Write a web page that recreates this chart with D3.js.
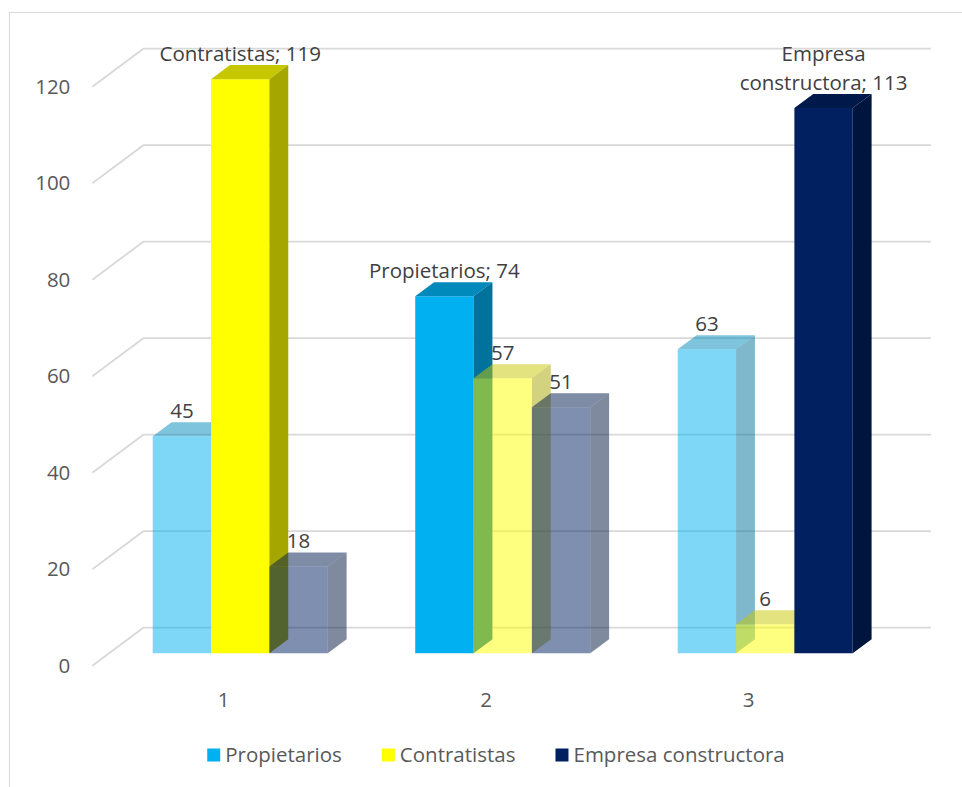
<!DOCTYPE html>
<html><head><meta charset="utf-8">
<script src="https://cdn.jsdelivr.net/npm/d3@7"></script>
<style>html,body{margin:0;padding:0;background:#fff;} svg{display:block;font-family:"Open Sans",sans-serif;}</style>
</head><body><svg id="c" width="962" height="787"></svg>
<script>
// ---- data ----
const categories = ["1", "2", "3"];
const seriesNames = ["Propietarios", "Contratistas", "Empresa constructora"];
const propietarios = [45, 74, 63];
const contratistas = [119, 57, 6];
const empresaConstructora = [18, 51, 113];
const yTicks = [0, 20, 40, 60, 80, 100, 120];

const seriesValues = [propietarios, contratistas, empresaConstructora];

const svg = d3.select("#c");
const color = d3.scaleOrdinal().domain(seriesNames).range(["#00B0F0", "#FFFF00", "#002060"]);

// chart border
svg.append("rect").attr("x", 9.5).attr("y", 12.5).attr("width", 1000).attr("height", 1000)
  .attr("fill", "none").attr("stroke", "#d9d9d9").attr("stroke-width", 1);

const front = {left: 92.35, right: 879.85, base: 665.7};
const depth = {dx: 51, dy: -38, d0: 0.326, d1: 0.696};
const x0 = d3.scaleBand().domain(categories).range([front.left, front.right]);
const x1 = d3.scaleBand().domain(seriesNames).range([0, x0.bandwidth()]).paddingOuter(0.75);
const y = d3.scaleLinear().domain([0, 120]).range([front.base, front.base - 579]);
const P = (x, v, d) => [x + d * depth.dx, y(v) + d * depth.dy];

// gridlines (side wall + back wall)
const grid = svg.append("g");
yTicks.forEach(t => {
  const pts = [P(front.left, t, 0), P(front.left, t, 1), P(front.right, t, 1)];
  grid.append("polyline").attr("points", pts.map(p => p.join(",")).join(" "))
    .attr("fill", "none").attr("stroke", "#d9d9d9").attr("stroke-width", 1.8);
});

// axes
const yAxis = svg.append("g").attr("transform", `translate(${front.left},0)`)
  .call(d3.axisLeft(y).tickValues(yTicks).tickSize(0).tickPadding(22));
yAxis.select(".domain").remove();
yAxis.selectAll("text").attr("fill", "#595959").style("font-size", "20.5px").style("font-family", "'Open Sans',sans-serif");

const xAxis = svg.append("g").attr("transform", `translate(0,${front.base})`)
  .call(d3.axisBottom(x0).tickSize(0).tickPadding(27));
xAxis.select(".domain").remove();
xAxis.selectAll("text").attr("fill", "#595959").style("font-size", "20.5px").style("font-family", "'Open Sans',sans-serif");

// bars
function shade(c, k) {
  const r = d3.rgb(c);
  return d3.rgb(r.r * k, r.g * k, r.b * k).formatHex();
}
const bars = svg.append("g");
const labels = svg.append("g");
categories.forEach((cat, i) => {
  const vals = seriesValues.map(s => s[i]);
  const maxV = d3.max(vals);
  seriesNames.forEach((name, j) => {
    const v = seriesValues[j][i];
    const xl = x0(cat) + x1(name);
    const xr = xl + x1.bandwidth();
    const op = v === maxV ? 1 : 0.5;
    const c = color(name);
    const faces = [
      {pts: [P(xl, 0, depth.d0), P(xr, 0, depth.d0), P(xr, v, depth.d0), P(xl, v, depth.d0)], fill: c},
      {pts: [P(xl, v, depth.d0), P(xr, v, depth.d0), P(xr, v, depth.d1), P(xl, v, depth.d1)], fill: shade(c, 0.78)},
      {pts: [P(xr, 0, depth.d0), P(xr, 0, depth.d1), P(xr, v, depth.d1), P(xr, v, depth.d0)], fill: shade(c, 0.65)}
    ];
    faces.forEach(f => {
      bars.append("polygon").attr("points", f.pts.map(p => p.join(",")).join(" "))
        .attr("fill", f.fill).attr("fill-opacity", op);
    });
    // data label
    const cx = xl + x1.bandwidth() / 2 + depth.d0 * depth.dx;
    const baseY = y(v) + depth.d0 * depth.dy - 18;
    const txt = v === maxV ? `${name}; ${v}` : `${v}`;
    const t = labels.append("text").attr("x", cx).attr("y", baseY).attr("text-anchor", "middle")
      .attr("fill", "#404040").style("font-size", "20.5px").text(txt);
    if (t.node().getComputedTextLength() > 200) {
      // wrap words into lines
      const words = txt.split(" ");
      const lines = [];
      let cur = "";
      t.text("");
      words.forEach(w => {
        const test = cur ? cur + " " + w : w;
        t.text(test);
        if (t.node().getComputedTextLength() > 200 && cur) { lines.push(cur); cur = w; }
        else cur = test;
      });
      lines.push(cur);
      t.text("");
      const lh = 29;
      lines.forEach((ln, k) => {
        t.append("tspan").attr("x", cx).attr("y", baseY - (lines.length - 1 - k) * lh).text(ln);
      });
    }
  });
});

// legend
const legend = svg.append("g");
const legY = 755;
let lx = 0;
const items = [];
seriesNames.forEach((name, j) => {
  const g = legend.append("g");
  g.append("rect").attr("x", 0).attr("y", -6.5).attr("width", 13).attr("height", 13).attr("fill", color(name));
  const tx = g.append("text").attr("x", 18).attr("y", 0).attr("dy", "0.35em").attr("fill", "#595959")
    .style("font-size", "20.5px").text(name);
  const w = 18 + tx.node().getComputedTextLength();
  items.push({g, w});
});
const gap = 40;
const total = d3.sum(items, d => d.w) + gap * (items.length - 1);
let start = 496 - total / 2;
items.forEach(it => {
  it.g.attr("transform", `translate(${start},${legY})`);
  start += it.w + gap;
});
</script>
</body></html>
